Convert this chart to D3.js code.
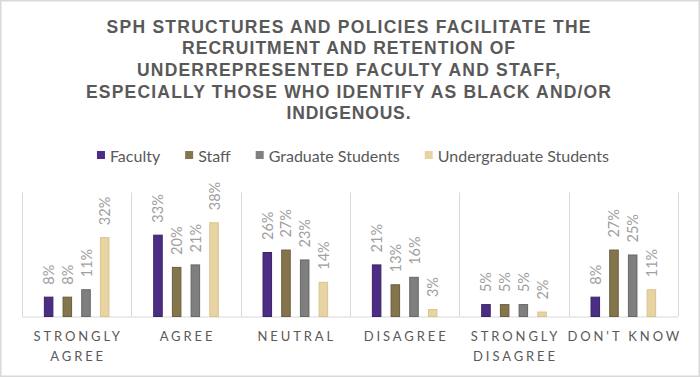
<!DOCTYPE html>
<html>
<head>
<meta charset="utf-8">
<script src="https://cdn.jsdelivr.net/npm/d3@7"></script>
<style>
  html, body { margin: 0; padding: 0; background: #fff; }
  svg { display: block; }
</style>
</head>
<body>
<svg id="chart" width="700" height="377"></svg>
<script>
// ---- data ----
const titleLines = [
  "SPH STRUCTURES AND POLICIES FACILITATE THE",
  "RECRUITMENT AND RETENTION OF",
  "UNDERREPRESENTED FACULTY AND STAFF,",
  "ESPECIALLY THOSE WHO IDENTIFY AS BLACK AND/OR",
  "INDIGENOUS."
];
const categories = ["Strongly Agree", "Agree", "Neutral", "Disagree", "Strongly Disagree", "Don't Know"];
const categoryLabels = ["STRONGLY\nAGREE", "AGREE", "NEUTRAL", "DISAGREE", "STRONGLY\nDISAGREE", "DON'T KNOW"];
const seriesNames = ["Faculty", "Staff", "Graduate Students", "Undergraduate Students"];
const faculty = [8, 33, 26, 21, 5, 8];
const staff = [8, 20, 27, 13, 5, 27];
const gradStudents = [11, 21, 23, 16, 5, 25];
const undergradStudents = [32, 38, 14, 3, 2, 11];
const seriesColors = ["#4b2e83", "#85754d", "#7f7f7f", "#e8d3a2"];
const seriesStroke = ["#3a2368", "#6b5e3d", "#666666", "#d9c48f"];

const seriesValues = [faculty, staff, gradStudents, undergradStudents];

// ---- layout ----
const svg = d3.select("#chart");
const W = 700, H = 377;
const plot = { left: 22, right: 678, top: 192.5, bottom: 316.5 };

svg.append("rect")
  .attr("x", 0.75).attr("y", 0.75).attr("width", W - 1.5).attr("height", H - 1.5)
  .attr("fill", "#fff").attr("stroke", "#d9d9d9").attr("stroke-width", 1.5);

// Title
const titleFont = "'Liberation Sans', Arial, sans-serif";
const titleWidths = [484, 333, 423, 525, 124];
const title = svg.append("g");
titleLines.forEach((t, i) => {
  title.append("text")
    .attr("x", 348.5)
    .attr("y", 26.7 + i * 21.6)
    .attr("text-anchor", "middle")
    .attr("dominant-baseline", "central")
    .attr("font-family", titleFont)
    .attr("font-weight", "bold")
    .attr("font-size", 17.5)
    .attr("fill", "#595959")
    .attr("textLength", titleWidths[i])
    .attr("lengthAdjust", "spacing")
    .text(t);
});

// Scales
const x0 = d3.scaleBand().domain(categories).range([plot.left, plot.right]).padding(0);
const x1 = d3.scaleBand().domain(seriesNames).range([0, x0.bandwidth()])
  .paddingInner(0.49).paddingOuter(1.17);
const y = d3.scaleLinear().domain([0, 50]).range([plot.bottom, plot.top]);

// Separators (vertical category lines)
const bounds = categories.map(c => x0(c)).concat([plot.right]);
svg.append("g").selectAll("line").data(bounds).join("line")
  .attr("x1", d => Math.round(d) + 0.5).attr("x2", d => Math.round(d) + 0.5)
  .attr("y1", y(50)).attr("y2", y(0))
  .attr("stroke", "#d9d9d9").attr("stroke-width", 1);

// Baseline
svg.append("line")
  .attr("x1", plot.left).attr("x2", plot.right)
  .attr("y1", y(0) + 0.5).attr("y2", y(0) + 0.5)
  .attr("stroke", "#d9d9d9").attr("stroke-width", 1);

// Bars
const flat = [];
categories.forEach((c, ci) => {
  seriesNames.forEach((s, si) => {
    flat.push({ cat: c, series: s, si, value: seriesValues[si][ci] });
  });
});

const bars = svg.append("g");
bars.selectAll("rect").data(flat).join("rect")
  .attr("x", d => x0(d.cat) + x1(d.series) + 0.5)
  .attr("y", d => y(d.value) + 0.5)
  .attr("width", x1.bandwidth() - 1)
  .attr("height", d => y(0) - y(d.value) - 0.5)
  .attr("fill", d => seriesColors[d.si])
  .attr("stroke", d => seriesStroke[d.si])
  .attr("stroke-width", 1);

// Data labels (rotated)
const labelFont = "Lato, 'Open Sans', sans-serif";
bars.selectAll("text").data(flat).join("text")
  .attr("transform", d => {
    const cx = x0(d.cat) + x1(d.series) + x1.bandwidth() / 2;
    const cy = y(d.value) - 12;
    return `translate(${cx},${cy}) rotate(-90)`;
  })
  .attr("text-anchor", "start")
  .attr("dominant-baseline", "central")
  .attr("font-family", labelFont)
  .attr("font-size", 14.5)
  .attr("fill", "#a0a0a0")
  .text(d => d.value + "%");

// Category labels
const catG = svg.append("g");
categories.forEach((c, i) => {
  const lines = categoryLabels[i].split("\n");
  const t = catG.append("text")
    .attr("text-anchor", "middle")
    .attr("font-family", labelFont)
    .attr("font-size", 13)
    .attr("letter-spacing", "2.9px")
    .attr("fill", "#595959");
  lines.forEach((ln, li) => {
    t.append("tspan")
      .attr("x", x0(c) + x0.bandwidth() / 2 + 1.5)
      .attr("y", 341 + li * 19.5)
      .text(ln);
  });
});

// Legend
const legend = svg.append("g");
let lx = 0;
const items = [];
seriesNames.forEach((s, i) => {
  const g = legend.append("g");
  g.append("rect").attr("x", 0).attr("y", -4).attr("width", 8).attr("height", 8)
    .attr("fill", seriesColors[i]);
  const tx = g.append("text").attr("x", 13).attr("y", 0)
    .attr("dominant-baseline", "central")
    .attr("font-family", labelFont)
    .attr("font-size", 16)
    .attr("fill", "#595959")
    .text(s);
  const w = 13 + tx.node().getComputedTextLength();
  items.push({ g, w });
});
const gap = 25;
const total = d3.sum(items, d => d.w) + gap * (items.length - 1);
lx = 353 - total / 2;
items.forEach(it => {
  it.g.attr("transform", `translate(${lx},155)`);
  lx += it.w + gap;
});
</script>
</body>
</html>
